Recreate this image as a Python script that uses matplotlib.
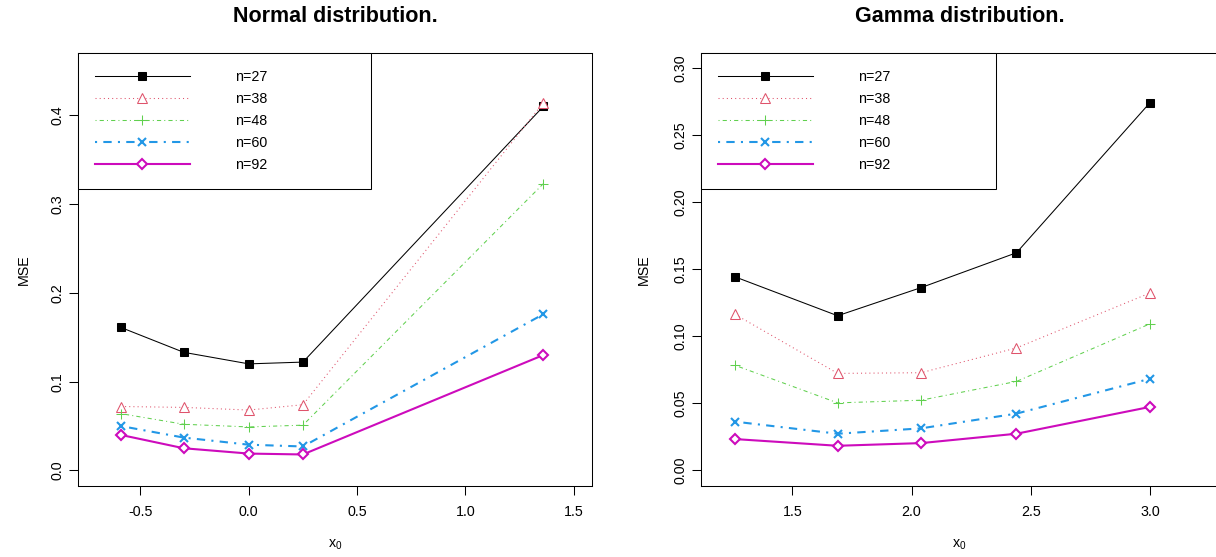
import numpy as np
import matplotlib
matplotlib.use("Agg")
import matplotlib.pyplot as plt
from matplotlib.ticker import FormatStrFormatter

plt.rcParams['font.family'] = ['Liberation Sans', 'DejaVu Sans']
plt.rcParams['mathtext.fontset'] = 'custom'
plt.rcParams['mathtext.rm'] = 'Liberation Sans'
plt.rcParams['axes.unicode_minus'] = False

BASE = 10.3

# data
sample_sizes = ["n=27", "n=38", "n=48", "n=60", "n=92"]

x_normal = [-0.59, -0.30, 0.0, 0.25, 1.36]
mse_normal_27 = [0.161, 0.133, 0.120, 0.122, 0.410]
mse_normal_38 = [0.072, 0.071, 0.068, 0.074, 0.414]
mse_normal_48 = [0.064, 0.052, 0.049, 0.051, 0.323]
mse_normal_60 = [0.050, 0.037, 0.029, 0.027, 0.176]
mse_normal_92 = [0.040, 0.025, 0.019, 0.018, 0.130]

x_gamma = [1.26, 1.69, 2.04, 2.44, 3.0]
mse_gamma_27 = [0.144, 0.115, 0.136, 0.162, 0.274]
mse_gamma_38 = [0.116, 0.072, 0.0725, 0.091, 0.132]
mse_gamma_48 = [0.078, 0.050, 0.052, 0.066, 0.109]
mse_gamma_60 = [0.036, 0.027, 0.031, 0.042, 0.068]
mse_gamma_92 = [0.023, 0.018, 0.020, 0.027, 0.047]

# R-like styles: colour, marker, markersize, line width, dashes
styles = [
    dict(color="black", marker="s", ms=5.3, lw=0.75, mew=0.75, mfc="black", dashes=None),
    dict(color="#DF536B", marker="^", ms=6.5, lw=0.75, mew=0.75, mfc="white", dashes=(1, 3)),
    dict(color="#61D04F", marker="+", ms=6.5, lw=0.75, mew=0.75, mfc="none", dashes=(1, 3, 4, 3)),
    dict(color="#2297E6", marker="x", ms=5.6, lw=1.5, mew=1.5, mfc="none", dashes=(1, 3, 4, 3)),
    dict(color="#CD0BBC", marker="D", ms=5.2, lw=1.5, mew=1.5, mfc="white", dashes=None),
]


def draw_panel(ax, x, series, title, xlim, ylim, xticks, yticks, yfmt, ylab_x):
    for y, lab, st in zip(series, sample_sizes, styles):
        line, = ax.plot(x, y, color=st["color"], marker=st["marker"], ms=st["ms"],
                        lw=st["lw"], mew=st["mew"], mfc=st["mfc"], mec=st["color"],
                        label=lab)
        if st["dashes"] is not None:
            line.set_dashes(st["dashes"])
    ax.set_xlim(*xlim)
    ax.set_ylim(*ylim)
    ax.set_xticks(xticks)
    ax.set_yticks(yticks)
    ax.yaxis.set_major_formatter(FormatStrFormatter(yfmt))
    ax.tick_params(direction="out", length=6.5, width=0.75, labelsize=BASE)
    ax.tick_params(axis="x", pad=7)
    ax.tick_params(axis="y", pad=3)
    for t in ax.get_yticklabels():
        t.set_rotation(90)
        t.set_va("center")
    for sp in ax.spines.values():
        sp.set_linewidth(0.75)
    ax.set_title(title, fontsize=15.5, fontweight="bold", y=1.084, va="center", pad=0)
    ax.set_xlabel(r"$\mathregular{x_0}$", fontsize=BASE)
    ax.xaxis.set_label_coords(0.5, -0.136)
    ax.xaxis.label.set_va("center")
    ax.set_ylabel("MSE", fontsize=BASE)
    ax.yaxis.set_label_coords(ylab_x, 0.5)
    ax.yaxis.label.set_va("center")
    leg = ax.legend(loc="upper left", bbox_to_anchor=(0, 0, 0.570, 1), mode="expand",
                    borderaxespad=0, fontsize=BASE, numpoints=1, handlelength=6.6,
                    handletextpad=3.2, borderpad=1.2, labelspacing=0.56,
                    fancybox=False, framealpha=1, edgecolor="black")
    leg.get_frame().set_linewidth(0.75)


fig = plt.figure(figsize=(12.16, 5.57), dpi=100)
ax1 = fig.add_axes([78 / 1216, 71 / 557, 514 / 1216, 433 / 557])
ax2 = fig.add_axes([701 / 1216, 71 / 557, 517 / 1216, 433 / 557])

draw_panel(ax1, x_normal,
           [mse_normal_27, mse_normal_38, mse_normal_48, mse_normal_60, mse_normal_92],
           "Normal distribution.", (-0.788, 1.584), (-0.0175, 0.470),
           [-0.5, 0.0, 0.5, 1.0, 1.5], [0.0, 0.1, 0.2, 0.3, 0.4], "%.1f", -0.105)

draw_panel(ax2, x_gamma,
           [mse_gamma_27, mse_gamma_38, mse_gamma_48, mse_gamma_60, mse_gamma_92],
           "Gamma distribution.", (1.117, 3.285), (-0.012, 0.311),
           [1.5, 2.0, 2.5, 3.0], [0.0, 0.05, 0.10, 0.15, 0.20, 0.25, 0.30], "%.2f", -0.110)

fig.savefig("out.png", dpi=100)
